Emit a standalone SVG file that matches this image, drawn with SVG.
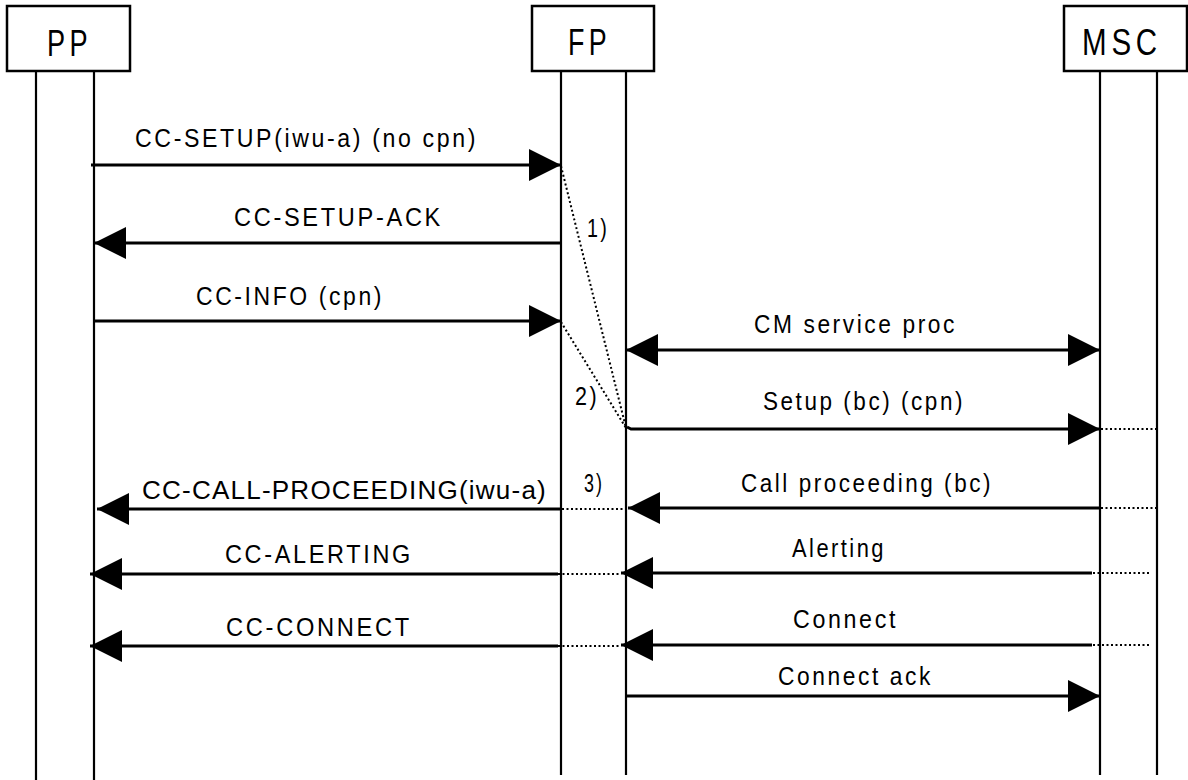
<svg xmlns="http://www.w3.org/2000/svg" width="1188" height="780" viewBox="0 0 1188 780">
<style>
.box{fill:#fff;stroke:#000;stroke-width:2.5}
.life{stroke:#000;stroke-width:2.2;fill:none}
.msg{stroke:#000;stroke-width:3;fill:none}
.dot{stroke:#000;stroke-width:2;fill:none;stroke-dasharray:2 2.5}
.t{font-family:"Liberation Sans",Arial,sans-serif;font-size:26.5px;letter-spacing:3px;fill:#000}
.h{font-family:"Liberation Sans",Arial,sans-serif;font-size:37px;letter-spacing:6px;fill:#000}
</style>
<defs>
<marker id="ah" markerUnits="userSpaceOnUse" markerWidth="32" markerHeight="32" viewBox="0 0 30 30" refX="30" refY="15" orient="auto-start-reverse">
<path d="M0,0 L30,15 L0,30 z" fill="#000"/>
</marker>
</defs>
<rect width="1188" height="780" fill="#fff"/>
<g id="PP">
<rect class="box" x="7" y="6" width="123" height="65"/>
<text class="h" x="47" y="56" textLength="45" lengthAdjust="spacingAndGlyphs">PP</text>
<line class="life" x1="36" y1="71" x2="36" y2="780"/>
<line class="life" x1="94" y1="71" x2="94" y2="780"/>
</g>
<g id="FP">
<rect class="box" x="532" y="6" width="122" height="65"/>
<text class="h" x="568" y="55" textLength="43" lengthAdjust="spacingAndGlyphs">FP</text>
<line class="life" x1="561" y1="71" x2="561" y2="775"/>
<line class="life" x1="626" y1="71" x2="626" y2="775"/>
</g>
<g id="MSC">
<rect class="box" x="1064" y="6" width="123" height="65"/>
<text class="h" x="1082" y="55" textLength="80" lengthAdjust="spacingAndGlyphs">MSC</text>
<line class="life" x1="1100" y1="71" x2="1100" y2="775"/>
<line class="life" x1="1157" y1="71" x2="1157" y2="775"/>
</g>
<g id="connectors">
<line class="msg" x1="91" y1="165" x2="561" y2="165" marker-end="url(#ah)"/>
<line class="msg" x1="561" y1="243" x2="94" y2="243" marker-end="url(#ah)"/>
<line class="msg" x1="94" y1="321" x2="561" y2="321" marker-end="url(#ah)"/>
<line class="dot" x1="561" y1="166" x2="626" y2="428"/>
<line class="dot" x1="561" y1="322" x2="626" y2="428"/>
<line class="msg" x1="626" y1="350" x2="1100" y2="350" marker-start="url(#ah)" marker-end="url(#ah)"/>
<polyline class="msg" points="627,427 631,429 1100,429" marker-end="url(#ah)"/>
<line class="dot" x1="1101" y1="429" x2="1157" y2="429"/>
<line class="msg" x1="1100" y1="508" x2="628" y2="508" marker-end="url(#ah)"/>
<line class="dot" x1="1101" y1="508" x2="1157" y2="508"/>
<line class="dot" x1="562" y1="509" x2="626" y2="509"/>
<line class="msg" x1="562" y1="509" x2="97" y2="509" marker-end="url(#ah)"/>
<line class="msg" x1="1092" y1="573" x2="621" y2="573" marker-end="url(#ah)"/>
<line class="dot" x1="1093" y1="573" x2="1151" y2="573"/>
<line class="dot" x1="558" y1="574" x2="621" y2="574"/>
<line class="msg" x1="558" y1="574" x2="90" y2="574" marker-end="url(#ah)"/>
<line class="msg" x1="1092" y1="645" x2="621" y2="645" marker-end="url(#ah)"/>
<line class="dot" x1="1093" y1="645" x2="1151" y2="645"/>
<line class="dot" x1="558" y1="646" x2="621" y2="646"/>
<line class="msg" x1="558" y1="646" x2="90" y2="646" marker-end="url(#ah)"/>
<line class="msg" x1="626" y1="696" x2="1100" y2="696" marker-end="url(#ah)"/>
</g>
<g id="labels">
<text class="t" x="135" y="147" textLength="343" lengthAdjust="spacingAndGlyphs">CC-SETUP(iwu-a) (no cpn)</text>
<text class="t" x="234" y="226" textLength="209" lengthAdjust="spacingAndGlyphs">CC-SETUP-ACK</text>
<text class="t" x="587" y="237" textLength="22" lengthAdjust="spacingAndGlyphs">1)</text>
<text class="t" x="196" y="305" textLength="188" lengthAdjust="spacingAndGlyphs">CC-INFO (cpn)</text>
<text class="t" x="754" y="333" textLength="203" lengthAdjust="spacingAndGlyphs">CM service proc</text>
<text class="t" x="575" y="405" textLength="24" lengthAdjust="spacingAndGlyphs">2)</text>
<text class="t" x="763" y="410" textLength="202" lengthAdjust="spacingAndGlyphs">Setup (bc) (cpn)</text>
<text class="t" x="584" y="492" textLength="20" lengthAdjust="spacingAndGlyphs">3)</text>
<text class="t" x="741" y="492" textLength="252" lengthAdjust="spacingAndGlyphs">Call proceeding (bc)</text>
<text class="t" x="142" y="499" textLength="405" lengthAdjust="spacingAndGlyphs" style="letter-spacing:1.2px">CC-CALL-PROCEEDING(iwu-a)</text>
<text class="t" x="225" y="563" textLength="188" lengthAdjust="spacingAndGlyphs">CC-ALERTING</text>
<text class="t" x="792" y="557" textLength="94" lengthAdjust="spacingAndGlyphs">Alerting</text>
<text class="t" x="226" y="636" textLength="186" lengthAdjust="spacingAndGlyphs">CC-CONNECT</text>
<text class="t" x="793" y="628" textLength="105" lengthAdjust="spacingAndGlyphs">Connect</text>
<text class="t" x="778" y="685" textLength="155" lengthAdjust="spacingAndGlyphs">Connect ack</text>
</g>
</svg>
